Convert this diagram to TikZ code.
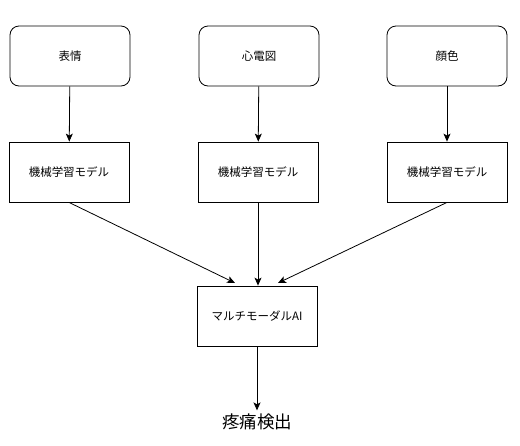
\documentclass[tikz,border=0pt]{standalone}
\usepackage{fontspec}
\setmainfont{Noto Sans CJK JP}
\usetikzlibrary{arrows.meta}
\begin{document}
\begin{tikzpicture}[x=1pt,y=-1pt,
  rbox/.style={draw,thick,rounded corners=9pt,minimum width=120pt,minimum height=60pt,inner sep=0pt,font=\fontsize{11.5}{13}\selectfont},
  sbox/.style={draw,thick,minimum width=120pt,minimum height=60pt,inner sep=0pt,font=\fontsize{11.5}{13}\selectfont},
  arr/.style={draw,thick,-{Stealth[length=8pt,width=7pt,inset=2pt]}}]
\useasboundingbox (0,0) rectangle (520,445);
\node[rbox] (t1) at (70,56) {表情};
\node[rbox] (t2) at (259,56) {心電図};
\node[rbox] (t3) at (447,56) {顔色};
\node[sbox] (m1) at (69,172) {機械学習モデル};
\node[sbox] (m2) at (258,172) {機械学習モデル};
\node[sbox] (m3) at (447,172) {機械学習モデル};
\node[sbox] (ai) at (257,316) {マルチモーダルAI};
\node[font=\fontsize{17.5}{20}\selectfont] (out) at (257,422) {疼痛検出};
\coordinate (a1) at (235,283);
\coordinate (a3) at (278,283);
\draw[arr] (t1) -- (m1);
\draw[arr] (t2) -- (m2);
\draw[arr] (t3) -- (m3);
\draw[arr] (m1.south) -- (a1);
\draw[arr] (m2.south) -- (ai.north -| m2.south);
\draw[arr] (m3.south) -- (a3);
\draw[arr] (ai) -- (out.north);
\end{tikzpicture}
\end{document}
